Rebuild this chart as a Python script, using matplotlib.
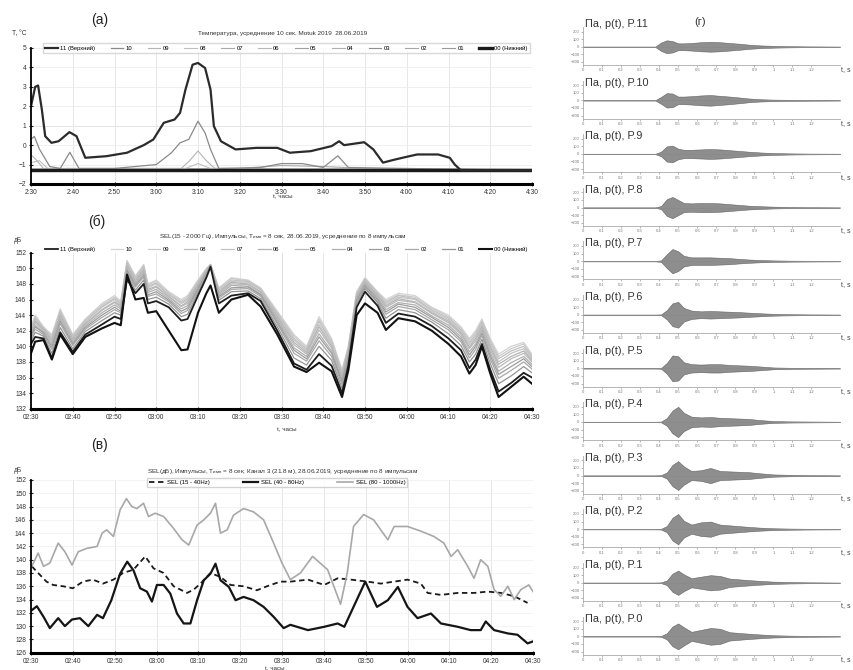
import matplotlib
matplotlib.use('Agg')
import matplotlib.pyplot as plt
import numpy as np

plt.rcParams['font.family'] = ['Liberation Sans', 'DejaVu Sans']

# ---------------- data ----------------
# time in minutes after 2:30
ticks_a = ['2:30', '2:40', '2:50', '3:00', '3:10', '3:20', '3:30', '3:40',
           '3:50', '4:00', '4:10', '4:20', '4:30']
ticks_bv = ['02:30', '02:40', '02:50', '03:00', '03:10', '03:20', '03:30',
            '03:40', '03:50', '04:00', '04:10', '04:20', '04:30']
names = ['11 (Верхний)', '10', '09', '08', '07', '06', '05', '04', '03',
         '02', '01', '00 (Нижний)']

# (a) temperature
ta11 = [0, 1, 1.7, 2.6, 3.4, 4.9, 6.6, 9.2, 10.9, 13, 18, 23, 27, 29.3, 31.8,
        34.4, 35.7, 37, 38.7, 40, 41.7, 43, 43.8, 45.5, 49, 54, 59, 62, 67, 72,
        73.8, 75, 79.8, 82, 84.3, 87, 90, 92.5, 97.5, 100.3, 101.5, 103, 120]
va11 = [2.0, 3.0, 3.07, 1.83, 0.46, 0.12, 0.2, 0.67, 0.46, -0.65, -0.57, -0.39,
        0.0, 0.29, 1.15, 1.32, 1.66, 2.86, 4.14, 4.23, 3.97, 2.86, 0.98, 0.2,
        -0.22, -0.14, -0.14, -0.39, -0.31, -0.05, 0.2, 0.0, 0.15, -0.22, -0.9,
        -0.75, -0.6, -0.48, -0.48, -0.65, -1.0, -1.3, -1.3]
ta10 = [0, 0.8, 2, 4.5, 7, 9.3, 11.5, 20, 30, 33.6, 35.7, 37.8, 40, 41.7, 43,
        45, 55, 60, 65, 70, 73.5, 76, 90, 120]
va10 = [0.3, 0.45, -0.2, -1.1, -1.2, -0.37, -1.2, -1.2, -1.0, -0.4, 0.12, 0.3,
        1.23, 0.63, -0.22, -1.2, -1.15, -0.95, -0.95, -1.15, -0.55, -1.15, -1.2,
        -1.3]
ta09 = [0, 1, 3, 36, 38, 40, 42, 44, 120]
va09 = [-0.5, -0.7, -1.2, -1.2, -0.8, -0.3, -0.8, -1.2, -1.25]
ta08 = [0, 2, 4, 37, 40, 43, 120]
va08 = [-0.9, -0.8, -1.2, -1.2, -0.95, -1.2, -1.25]
ta07 = [0, 50, 60, 70, 80, 120]
va07 = [-1.22, -1.2, -1.05, -1.1, -1.2, -1.25]
ta_flat = [0, 120]
va06 = [-1.24, -1.26]
va05 = [-1.27, -1.27]
va04 = [-1.28, -1.29]
va03 = [-1.3, -1.3]
va02 = [-1.31, -1.31]
va01 = [-1.32, -1.32]
va00 = [-1.3, -1.3]

# (б) SEL 15-2000 Hz, 12 channels
tb = [0, 1, 3, 5, 7, 10, 13, 17, 20, 21.5, 23, 25, 27, 28, 30, 33, 36, 37.5,
      40, 42, 43, 45, 48, 52, 55, 59, 63, 66, 69, 72, 74.5, 76, 78, 80, 83, 85,
      88, 92, 96, 100, 103, 105, 106.5, 108, 110, 112, 115, 118, 120]
b11 = [140.3, 141.2, 141.0, 138.5, 141.8, 139.3, 141.5, 142.8, 143.8, 143.5,
       148.6, 146.8, 148.0, 145.5, 145.8, 145.0, 143.3, 143.5, 146.5, 148.8,
       150.2, 145.5, 146.5, 146.8, 145.8, 142.0, 137.8, 137.0, 139.0, 137.5,
       134.0, 137.5, 145.0, 147.0, 145.2, 143.0, 144.2, 143.8, 142.6, 141.0,
       139.5, 137.2, 138.3, 140.3, 137.0, 134.2, 135.3, 136.6, 136.0]
b10 = [142.5, 144.0, 142.5, 141.5, 144.8, 141.5, 143.5, 145.5, 146.5, 145.8,
       151.0, 149.0, 150.5, 148.0, 148.5, 147.0, 146.0, 146.5, 148.5, 150.0,
       150.5, 147.5, 148.8, 148.5, 147.5, 144.5, 141.5, 140.0, 143.8, 141.0,
       137.0, 140.0, 147.0, 148.8, 147.0, 146.0, 146.8, 146.5, 145.0, 144.0,
       142.5, 141.0, 142.0, 143.5, 141.0, 139.0, 140.0, 140.5, 139.0]
b09 = [142.4, 143.8, 142.4, 141.3, 144.6, 141.4, 143.4, 145.3, 146.3, 145.7,
       150.9, 148.9, 150.4, 147.9, 148.3, 146.9, 145.8, 146.3, 148.4, 149.9,
       150.5, 147.4, 148.7, 148.4, 147.4, 144.4, 141.3, 139.8, 143.5, 140.8,
       136.8, 139.9, 146.9, 148.7, 146.9, 145.8, 146.6, 146.3, 144.9, 143.8,
       142.3, 140.8, 141.8, 143.3, 140.8, 138.7, 139.7, 140.3, 138.8]
b08 = [142.2, 143.6, 142.3, 141.1, 144.4, 141.2, 143.2, 145.1, 146.1, 145.5,
       150.7, 148.7, 150.2, 147.7, 148.1, 146.7, 145.6, 146.1, 148.2, 149.8,
       150.5, 147.2, 148.5, 148.3, 147.3, 144.2, 141.0, 139.6, 143.2, 140.5,
       136.6, 139.7, 146.7, 148.6, 146.8, 145.6, 146.5, 146.1, 144.7, 143.6,
       142.1, 140.5, 141.5, 143.1, 140.5, 138.4, 139.4, 140.0, 138.6]
b07 = [142.1, 143.4, 142.2, 140.9, 144.2, 141.1, 143.1, 145.0, 146.0, 145.3,
       150.5, 148.6, 150.0, 147.5, 148.0, 146.6, 145.5, 145.9, 148.1, 149.8,
       150.4, 147.1, 148.3, 148.2, 147.2, 144.0, 140.8, 139.4, 142.8, 140.3,
       136.4, 139.5, 146.6, 148.4, 146.6, 145.4, 146.3, 146.0, 144.5, 143.4,
       141.9, 140.2, 141.3, 142.9, 140.2, 138.0, 139.1, 139.7, 138.4]
b06 = [141.9, 143.2, 142.1, 140.7, 144.0, 140.9, 142.9, 144.7, 145.7, 145.2,
       150.3, 148.4, 149.8, 147.3, 147.7, 146.4, 145.2, 145.7, 147.9, 149.7,
       150.4, 146.9, 148.2, 148.0, 147.0, 143.8, 140.5, 139.2, 142.5, 140.0,
       136.2, 139.3, 146.4, 148.3, 146.5, 145.2, 146.1, 145.7, 144.3, 143.2,
       141.7, 139.9, 141.0, 142.6, 139.9, 137.7, 138.7, 139.4, 138.2]
b05 = [141.7, 143.0, 142.0, 140.5, 143.8, 140.7, 142.8, 144.6, 145.6, 145.0,
       150.2, 148.2, 149.6, 147.1, 147.6, 146.3, 145.1, 145.5, 147.8, 149.6,
       150.4, 146.8, 148.0, 147.9, 146.9, 143.6, 140.2, 139.0, 142.1, 139.8,
       136.0, 139.1, 146.3, 148.2, 146.4, 145.0, 145.9, 145.6, 144.2, 143.0,
       141.5, 139.7, 140.7, 142.4, 139.6, 137.3, 138.4, 139.1, 138.0]
b04 = [141.5, 142.7, 141.8, 140.2, 143.5, 140.5, 142.6, 144.3, 145.3, 144.8,
       149.9, 148.0, 149.4, 146.9, 147.3, 146.1, 144.8, 145.2, 147.6, 149.5,
       150.4, 146.6, 147.8, 147.7, 146.7, 143.4, 139.8, 138.7, 141.6, 139.4,
       135.7, 138.9, 146.1, 148.0, 146.2, 144.7, 145.6, 145.3, 143.9, 142.7,
       141.2, 139.3, 140.3, 142.1, 139.2, 136.8, 137.9, 138.7, 137.7]
b03 = [141.3, 142.5, 141.7, 139.9, 143.2, 140.3, 142.4, 144.0, 145.0, 144.5,
       149.7, 147.8, 149.1, 146.6, 147.0, 145.9, 144.5, 144.9, 147.4, 149.3,
       150.3, 146.4, 147.5, 147.6, 146.6, 143.1, 139.5, 138.4, 141.2, 139.1,
       135.4, 138.6, 145.9, 147.8, 146.0, 144.4, 145.4, 145.0, 143.7, 142.4,
       140.9, 138.9, 140.0, 141.7, 138.8, 136.4, 137.4, 138.4, 137.4]
b02 = [141.1, 142.2, 141.5, 139.6, 142.9, 140.1, 142.2, 143.7, 144.7, 144.3,
       149.4, 147.6, 148.9, 146.4, 146.7, 145.7, 144.2, 144.6, 147.2, 149.2,
       150.3, 146.2, 147.3, 147.4, 146.4, 142.9, 139.1, 138.1, 140.7, 138.7,
       135.1, 138.4, 145.7, 147.6, 145.8, 144.1, 145.1, 144.7, 143.4, 142.1,
       140.6, 138.5, 139.6, 141.4, 138.4, 135.9, 136.9, 138.0, 137.1]
b01 = [140.7, 141.8, 141.3, 139.1, 142.4, 139.7, 141.9, 143.3, 144.3, 144.0,
       149.1, 147.2, 148.5, 146.0, 146.3, 145.4, 143.8, 144.1, 146.9, 149.0,
       150.3, 145.9, 147.0, 147.1, 146.1, 142.5, 138.5, 137.6, 140.0, 138.2,
       134.6, 138.0, 145.4, 147.4, 145.6, 143.6, 144.7, 144.3, 143.1, 141.6,
       140.1, 138.0, 139.0, 140.9, 137.8, 135.2, 136.2, 137.4, 136.6]
b00 = [139.1, 140.6, 140.8, 138.3, 141.5, 139.0, 141.2, 142.3, 143.0, 142.7,
       149.2, 146.0, 146.2, 144.3, 144.5, 142.0, 139.5, 139.6, 144.3, 146.8,
       147.8, 144.3, 146.0, 146.6, 145.1, 141.5, 137.4, 136.7, 137.9, 136.8,
       133.5, 136.9, 144.0, 145.5, 144.3, 142.1, 143.6, 143.2, 142.0, 140.3,
       138.7, 136.5, 137.6, 140.0, 136.5, 133.5, 134.8, 136.1, 135.2]

# (в) SEL per band
tv_lo = [0.2, 1.7, 3.7, 5.3, 7.7, 10, 12.4, 14.8, 17.2, 19.7, 22, 24.5, 27.3,
         29.3, 31.7, 34.1, 37.3, 38.9, 40.5, 42.9, 45.3, 47.7, 50.8, 54, 56.4,
         59.6, 62, 66.2, 70.1, 73.3, 76.5, 80.5, 83.6, 86.8, 90, 93.2, 94.8, 98,
         102, 106, 109.2, 112.3, 115.5, 118.7]
sel_lo = [139.0, 138.0, 136.7, 136.2, 136.0, 135.7, 136.7, 137.0, 136.4, 137.0,
          138.0, 138.5, 140.5, 138.7, 138.0, 136.0, 135.0, 135.5, 136.4, 138.0,
          137.4, 136.2, 136.0, 135.4, 136.0, 136.7, 136.7, 137.0, 136.2, 137.2,
          137.0, 136.7, 136.4, 136.7, 137.0, 136.4, 135.0, 134.7, 135.0, 135.0,
          135.2, 135.0, 134.5, 133.5]
tv_mid = [0.2, 1.4, 3, 4.5, 6.5, 8.1, 9.8, 11.7, 13.7, 15.8, 17.2, 19.2, 21.3,
          23, 24.5, 26.1, 27.7, 28.9, 30.1, 31.7, 33.3, 34.9, 36.5, 38.1, 39.7,
          41.3, 42.9, 44.1, 45.3, 47.3, 48.9, 50.8, 53.2, 55.6, 58, 60.4, 62,
          66.2, 70.1, 73.3, 74.9, 77.1, 79.9, 82.7, 85.3, 87.7, 90, 92.4, 95.6,
          98, 102, 105.1, 107.5, 108.7, 110.7, 114, 116.3, 118.7, 120]
sel_mid = [132.4, 133.0, 131.4, 129.7, 131.2, 130.0, 131.0, 131.2, 130.0, 131.7,
           131.2, 133.9, 137.9, 139.7, 138.4, 135.7, 135.2, 133.7, 136.2, 136.2,
           134.9, 131.9, 130.4, 130.4, 133.9, 136.9, 137.9, 139.4, 136.9, 135.9,
           133.9, 134.4, 133.9, 132.9, 131.4, 129.7, 130.2, 129.4, 129.9, 130.4,
           129.9, 132.9, 136.7, 132.9, 133.9, 135.9, 132.9, 131.2, 131.9, 130.4,
           129.9, 129.4, 129.4, 130.7, 129.4, 128.9, 128.7, 127.4, 127.7]
tv_hi = [0.2, 1.7, 3, 4.5, 6.5, 8.1, 9.8, 11.3, 13.3, 15.8, 17, 18.1, 19.7, 21.3,
         22.8, 24.1, 25.3, 26.9, 28.1, 29.7, 31.7, 34.1, 36.1, 37.7, 39.7, 41.3,
         42.9, 44.1, 45.3, 46.9, 48.4, 50.8, 53.2, 55.6, 58, 60, 62, 64.4, 67.3,
         70.9, 74, 75.6, 77.1, 79.5, 81.9, 83.6, 85.3, 86.8, 90, 93.2, 96.3,
         98.7, 100.4, 102, 104.4, 105.9, 107.5, 109.2, 110.7, 112.3, 114, 115.5,
         117.1, 119, 120]
sel_hi = [139.0, 141.0, 139.0, 139.5, 142.5, 141.2, 139.2, 141.2, 141.7, 142.0,
          144.0, 144.5, 143.5, 147.5, 149.2, 148.0, 147.7, 148.5, 146.5, 147.0,
          146.5, 144.7, 143.0, 142.2, 145.2, 146.0, 147.0, 148.5, 144.0, 144.5,
          146.7, 147.7, 147.2, 146.0, 142.5, 139.5, 137.0, 138.0, 140.5, 138.5,
          133.3, 138.0, 145.0, 146.8, 146.0, 144.5, 143.0, 145.0, 145.0, 144.3,
          143.5, 142.5, 140.5, 141.5, 139.0, 137.2, 140.0, 139.0, 135.5, 134.5,
          136.0, 134.0, 135.5, 136.2, 135.2]

# (г) pressure envelopes, Па, time in s
t_env = [0, 0.38, 0.41, 0.44, 0.47, 0.50, 0.53, 0.57, 0.62, 0.67, 0.72, 0.77,
         0.82, 0.87, 0.93, 1.00, 1.08, 1.18, 1.35]
env_p11 = [3, 3, 55, 85, 75, 45, 45, 50, 60, 65, 60, 50, 40, 28, 18, 12, 8, 5, 3]
env_p10 = [3, 3, 45, 95, 90, 50, 50, 55, 65, 70, 60, 50, 38, 25, 15, 10, 7, 5, 3]
env_p9 = [3, 3, 30, 100, 110, 70, 55, 55, 60, 65, 60, 50, 40, 30, 20, 12, 8, 5, 3]
env_p8 = [3, 3, 20, 110, 140, 100, 60, 55, 60, 60, 55, 45, 35, 25, 18, 12, 8, 5, 3]
env_p7 = [3, 3, 10, 90, 160, 130, 70, 50, 50, 50, 45, 40, 30, 22, 15, 10, 7, 5, 3]
env_p6 = [3, 3, 5, 60, 150, 170, 90, 55, 45, 50, 45, 40, 35, 28, 20, 12, 8, 5, 3]
env_p5 = [3, 3, 5, 70, 170, 160, 80, 55, 50, 55, 55, 45, 40, 35, 25, 12, 8, 5, 3]
env_p4 = [3, 3, 5, 50, 150, 200, 120, 70, 60, 65, 55, 50, 45, 40, 25, 12, 8, 6, 3]
env_p3 = [3, 3, 5, 40, 140, 190, 120, 60, 70, 100, 60, 55, 50, 45, 30, 15, 10, 6, 3]
env_p2 = [3, 3, 5, 40, 150, 200, 110, 60, 90, 100, 60, 50, 40, 30, 20, 12, 8, 5, 3]
env_p1 = [3, 3, 5, 30, 120, 160, 110, 60, 80, 100, 90, 55, 45, 35, 25, 15, 10, 6, 3]
env_p0 = [3, 3, 5, 40, 130, 170, 120, 60, 85, 110, 100, 55, 45, 35, 25, 15, 10, 6, 3]
strip_names = ['Па, p(t), P.11', 'Па, p(t), P.10', 'Па, p(t), P.9',
               'Па, p(t), P.8', 'Па, p(t), P.7', 'Па, p(t), P.6',
               'Па, p(t), P.5', 'Па, p(t), P.4', 'Па, p(t), P.3',
               'Па, p(t), P.2', 'Па, p(t), P.1', 'Па, p(t), P.0']
strip_ticks = ['0', '0.1', '0.2', '0.3', '0.4', '0.5', '0.6', '0.7', '0.8',
               '0.9', '1', '1.1', '1.2']

# ---------------- figure ----------------
W, H = 854, 670
fig = plt.figure(figsize=(W / 100, H / 100), dpi=100)


def px_axes(x0, y0, x1, y1):
    # pixel box, origin top-left
    return fig.add_axes([x0 / W, 1 - y1 / H, (x1 - x0) / W, (y1 - y0) / H])


def px_text(x, y, s, **kw):
    fig.text(x / W, 1 - y / H, s, **kw)


def style_left(ax, labels):
    for s in ['top', 'right']:
        ax.spines[s].set_visible(False)
    ax.spines['left'].set_linewidth(1.3)
    ax.spines['bottom'].set_linewidth(2.2)
    ax.set_xlim(0, 120)
    ax.set_xticks(np.arange(0, 121, 10))
    ax.set_xticklabels(labels)
    ax.tick_params(labelsize=4.8, length=3, width=0.8, direction='inout',
                   colors='#222', labelcolor='#333', pad=2)
    ax.grid(axis='x', color='#e3e3e3', lw=0.6)
    ax.set_axisbelow(True)


# ---- (a) temperature ----
ax_a = px_axes(31, 48, 532, 184)
style_left(ax_a, ticks_a)
ax_a.set_ylim(-2, 5)
ax_a.set_yticks(np.arange(-2, 6, 1))
ax_a.grid(axis='y', color='#ececec', lw=0.6)
ax_a.axhline(1, color='#c4c4c4', lw=0.7, zorder=0)

gray_a = [(ta_flat, va01, '#9a9a9a', 0.8), (ta_flat, va02, '#a5a5a5', 0.8),
          (ta_flat, va03, '#8f8f8f', 0.8), (ta_flat, va04, '#b0b0b0', 0.8),
          (ta_flat, va05, '#a0a0a0', 0.8), (ta_flat, va06, '#b8b8b8', 0.8),
          (ta07, va07, '#aaaaaa', 0.8), (ta08, va08, '#c0c0c0', 0.8),
          (ta09, va09, '#b5b5b5', 0.8), (ta10, va10, '#8a8a8a', 0.9)]
h_a = {}
for (tt, vv, c, lw), nm in zip(gray_a, names[10:0:-1]):
    h_a[nm], = ax_a.plot(tt, vv, color=c, lw=lw)
h_a[names[11]], = ax_a.plot(ta_flat, va00, color='#1a1a1a', lw=2.4)
h_a[names[0]], = ax_a.plot(ta11, va11, color='#2b2b2b', lw=1.6)
ax_a.legend([h_a[n] for n in names], names, ncol=12, loc='center',
            bbox_to_anchor=(0.51, 1.0), fontsize=4.2, frameon=True,
            fancybox=False, edgecolor='#d0d0d0', handlelength=2.2,
            columnspacing=2.6, handletextpad=0.4, borderpad=0.35)

px_text(100, 20, '(a)', fontsize=10, ha='center', va='center', color='#222')
px_text(283, 33, 'Температура, усреднение 10 сек. Motuk 2019  28.06.2019',
        fontsize=4.6, ha='center', va='center', color='#333')
px_text(12, 34, 'T, °C', fontsize=4.8, ha='left', va='center', color='#333')
px_text(283, 197, 't, часы', fontsize=4.5, ha='center', va='center',
        color='#333')

# ---- (б) SEL 15-2000 Hz ----
ax_b = px_axes(31, 252.7, 532, 408.7)
style_left(ax_b, ticks_bv)
ax_b.set_ylim(132, 152)
ax_b.set_yticks(np.arange(132, 153, 2))
ax_b.axvline(60, color='#c8c8c8', lw=0.7, zorder=0)
ax_b.axvline(80, color='#c8c8c8', lw=0.7, zorder=0)

gray_b = [(b01, '#959595'), (b02, '#a8a8a8'), (b03, '#9c9c9c'),
          (b04, '#b0b0b0'), (b05, '#bababa'), (b06, '#b3b3b3'),
          (b07, '#c4c4c4'), (b08, '#bfbfbf'), (b09, '#cacaca'),
          (b10, '#d4d4d4')]
h_b = {}
for (vv, c), nm in zip(gray_b[::-1], names[1:11]):
    h_b[nm], = ax_b.plot(tb, vv, color=c, lw=0.9)
h_b[names[0]], = ax_b.plot(tb, b11, color='#1e1e1e', lw=1.3)
h_b[names[11]], = ax_b.plot(tb, b00, color='#111111', lw=1.5)
ax_b.legend([h_b[n] for n in names], names, ncol=12, loc='center',
            bbox_to_anchor=(0.51, 1.02), fontsize=4.2, frameon=False,
            handlelength=2.2, columnspacing=2.6, handletextpad=0.4)

px_text(97, 222, '(б)', fontsize=10, ha='center', va='center', color='#222')
px_text(283, 237, 'SEL(15 - 2000 Гц), Импульсы, T$_{\\mathregular{имп}}$ = 8 сек, '
        '28.06.2019, усреднение по 8 импульсам',
        fontsize=4.6, ha='center', va='center', color='#333')
px_text(14, 241, 'дБ', fontsize=4.8, ha='left', va='center', color='#333')
px_text(287, 430, 't, часы', fontsize=4.5, ha='center', va='center',
        color='#333')

# ---- (в) SEL per band ----
ax_v = px_axes(31, 480, 533, 652.7)
style_left(ax_v, ticks_bv)
ax_v.set_ylim(126, 152)
ax_v.set_yticks(np.arange(126, 153, 2))
ax_v.grid(axis='y', color='#efefef', lw=0.5)
h1, = ax_v.plot(tv_lo, sel_lo, color='#1a1a1a', lw=1.3, ls=(0, (3, 2)))
h2, = ax_v.plot(tv_mid, sel_mid, color='#151515', lw=1.6)
h3, = ax_v.plot(tv_hi, sel_hi, color='#a8a8a8', lw=1.2)
ax_v.legend([h1, h2, h3], ['SEL (15 - 40Hz)', 'SEL (40 - 80Hz)',
                           'SEL (80 - 1000Hz)'],
            ncol=3, loc='center', bbox_to_anchor=(0.49, 0.985), fontsize=4.3,
            frameon=True, fancybox=False, edgecolor='#c8c8c8',
            handlelength=2.6, columnspacing=5.5, handletextpad=0.5,
            borderpad=0.3)

px_text(100, 445, '(в)', fontsize=10, ha='center', va='center', color='#222')
px_text(283, 472, 'SEL(дБ), Импульсы, T$_{\\mathregular{имп}}$ = 8 сек, '
        'Канал 3 (21.8 м), 28.06.2019, усреднение по 8 импульсам',
        fontsize=4.6, ha='center', va='center', color='#333')
px_text(14, 470, 'дБ', fontsize=4.8, ha='left', va='center', color='#333')
px_text(275, 669, 't, часы', fontsize=4.5, ha='center', va='center',
        color='#333')

# ---- (г) pressure strips ----
envs = [env_p11, env_p10, env_p9, env_p8, env_p7, env_p6, env_p5, env_p4,
        env_p3, env_p2, env_p1, env_p0]
for i, (env, nm) in enumerate(zip(envs, strip_names)):
    y0 = 47 + i * 53.6
    ax = px_axes(583, y0 - 20, 840, y0 + 18)
    ax.set_xlim(0, 1.35)
    ax.set_ylim(-240, 260)
    amp = np.array(env)
    ax.axhline(0, color='#8a8a8a', lw=0.7)
    ax.fill_between(t_env, -amp, amp, color='#7a7a7a', alpha=0.85, lw=0.4,
                    edgecolor='#555')
    for s in ['top', 'right']:
        ax.spines[s].set_visible(False)
    for s in ['left', 'bottom']:
        ax.spines[s].set_color('#aaaaaa')
        ax.spines[s].set_linewidth(0.6)
    ax.set_xticks(np.arange(0, 1.21, 0.1))
    ax.set_xticklabels(strip_ticks)
    ax.set_yticks([-200, -100, 0, 100, 200])
    ax.tick_params(labelsize=3.0, length=1.5, width=0.5, colors='#999',
                   labelcolor='#777', pad=1)
    px_text(585, y0 - (23 if i == 0 else 18), nm, fontsize=7.8, ha='left',
            va='center', color='#333')
    px_text(846, y0 + 23, 't, s', fontsize=5, ha='center', va='center',
            color='#444')

px_text(700, 22, '(г)', fontsize=8, ha='center', va='center', color='#333')

fig.savefig('out.png', dpi=100)
